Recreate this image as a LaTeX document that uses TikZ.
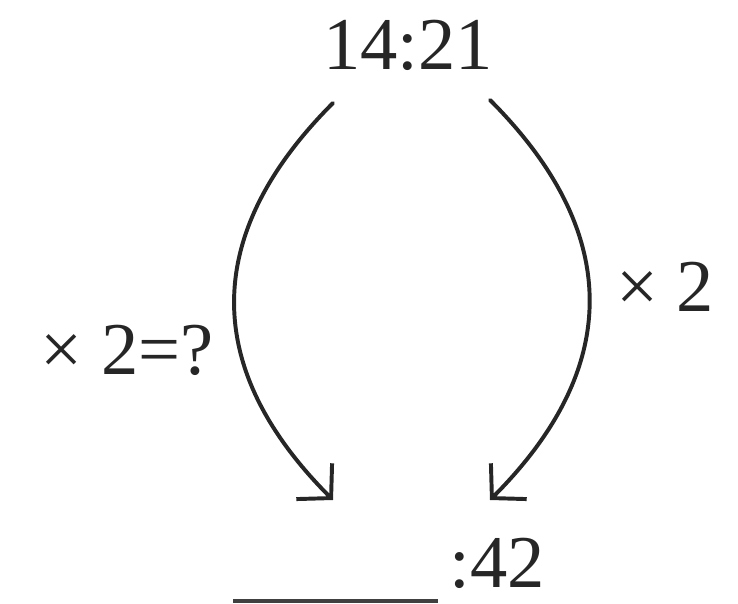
\documentclass[tikz,border=0pt]{standalone}
\usepackage{fontspec}
\setmainfont{Liberation Serif}
\usetikzlibrary{arrows.meta,positioning,calc}
\begin{document}
\begin{tikzpicture}[x=0.025cm,y=0.025cm,
  lbl/.style={font=\fontsize{53}{60}\selectfont,text=black!85,inner sep=0pt,anchor=base},
  curvearrow/.style={draw=black!85,line width=2.8pt,line cap=round,-{Straight Barb[length=17pt,width=36pt,line width=2.8pt]}}]
\useasboundingbox (0,0) rectangle (738,604);
\node[lbl] (top) at (408,534) {14:21};
\node[lbl] (ratio) at (497,16) {:42};
\node[lbl] (lefttxt) at (127,229) {× 2=?};
\node[lbl] (righttxt) at (665,292) {× 2};
\coordinate (ls) at (333,501); \coordinate (le) at (333,104);
\coordinate (rs) at (490,504); \coordinate (re) at (490,104);
\draw[curvearrow] (ls) to[out=225,in=135,looseness=1.2] (le);
\draw[curvearrow] (rs) to[out=-45,in=45,looseness=1.2] (re);
\coordinate (blankL) at (233,3); \coordinate (blankR) at (438,3);
\draw[black!75,line width=2.8pt] (blankL) -- (blankR);
\end{tikzpicture}
\end{document}
